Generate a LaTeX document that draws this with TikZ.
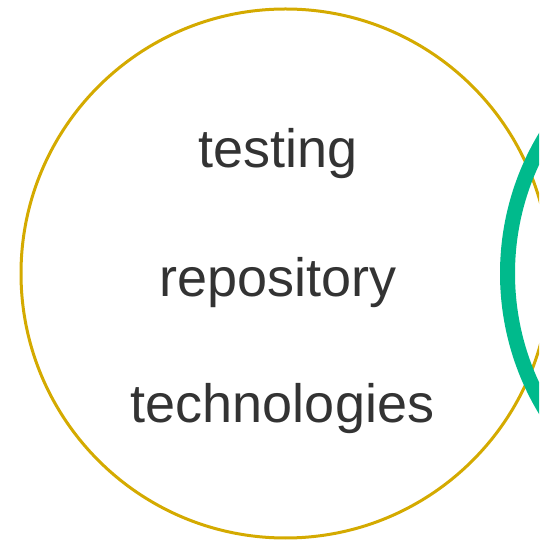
\documentclass[tikz,border=0pt]{standalone}
\usepackage{fontspec}
\setmainfont{Liberation Sans}
\definecolor{gold}{RGB}{212,170,0}
\definecolor{teal}{RGB}{0,186,140}
\definecolor{txt}{RGB}{51,51,51}
\begin{document}
\begin{tikzpicture}[x=1pt,y=1pt,
  label/.style={anchor=base,text=txt,font=\fontsize{54}{60}\selectfont,inner sep=0pt}]
\useasboundingbox (0,0) rectangle (539,541);
\clip (0,0) rectangle (539,541);
\draw[gold,line width=3pt] (285.5,267.5) circle[radius=264.5];
\draw[teal,line width=15pt] (772,267.5) circle[radius=264.5];
\node[label] (t1) at (278,373) {testing};
\node[label] (t2) at (278,244) {repository};
\node[label] (t3) at (282.5,118) {technologies};
\end{tikzpicture}
\end{document}
